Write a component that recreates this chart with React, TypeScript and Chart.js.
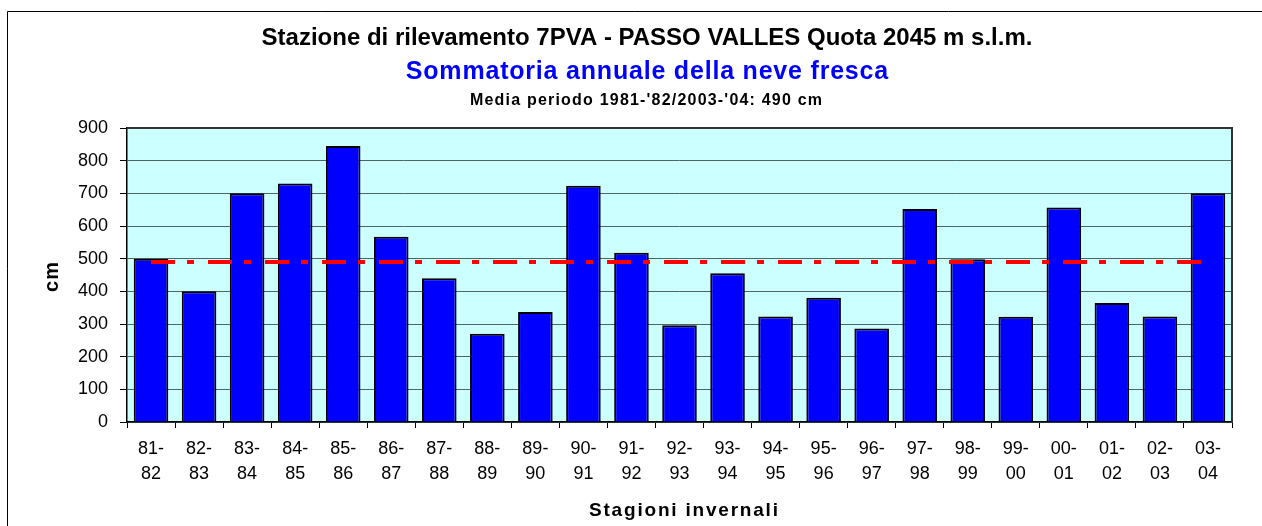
import React, { useEffect, useRef } from 'react';
import { Chart, registerables } from 'chart.js';

Chart.register(...registerables);

// ---- data ----
const seasons = [
  '81-82', '82-83', '83-84', '84-85', '85-86', '86-87', '87-88', '88-89',
  '89-90', '90-91', '91-92', '92-93', '93-94', '94-95', '95-96', '96-97',
  '97-98', '98-99', '99-00', '00-01', '01-02', '02-03', '03-04',
];
const snowfall = [
  500, 400, 700, 730, 845, 567, 440, 270,
  337, 723, 518, 296, 455, 323, 380, 286,
  652, 498, 322, 657, 364, 323, 700,
];
const meanValue = 490;
const yMin = 0;
const yMax = 900;
const yStep = 100;

const titleText = 'Stazione di rilevamento 7PVA - PASSO VALLES Quota 2045 m s.l.m.';
const subtitleText = 'Sommatoria annuale della neve fresca';
const noteText = `Media periodo 1981-'82/2003-'04: ${meanValue} cm`;
const xTitle = 'Stagioni invernali';
const yTitle = 'cm';

const FONT = '"Liberation Sans", Arial, Helvetica, sans-serif';

function drawText(
  ctx: CanvasRenderingContext2D,
  text: string,
  x: number,
  y: number,
  font: string,
  color: string,
  spacing: number,
  rotate = 0
) {
  ctx.save();
  ctx.translate(x, y);
  if (rotate) ctx.rotate(rotate);
  ctx.font = font;
  ctx.fillStyle = color;
  (ctx as any).letterSpacing = `${spacing}px`;
  ctx.textAlign = 'center';
  ctx.textBaseline = 'alphabetic';
  ctx.fillText(text, spacing / 2, 0);
  ctx.restore();
}

const decorPlugin = {
  id: 'decor',
  beforeDraw(chart: any) {
    const { ctx, chartArea: a } = chart;
    ctx.save();
    ctx.fillStyle = '#ffffff';
    ctx.fillRect(0, 0, chart.width, chart.height);
    ctx.fillStyle = '#CCFFFF';
    ctx.fillRect(a.left, a.top, a.right - a.left, a.bottom - a.top);
    ctx.strokeStyle = '#000';
    ctx.lineWidth = 1;
    ctx.beginPath();
    ctx.moveTo(7.5, chart.height);
    ctx.lineTo(7.5, 11.5);
    ctx.lineTo(chart.width, 11.5);
    ctx.stroke();
    ctx.restore();
  },
  afterDraw(chart: any) {
    const { ctx, chartArea: a } = chart;
    ctx.save();
    ctx.strokeStyle = '#333';
    ctx.lineWidth = 2;
    ctx.beginPath();
    ctx.moveTo(a.left, a.top);
    ctx.lineTo(a.right, a.top);
    ctx.lineTo(a.right, a.bottom);
    ctx.stroke();
    ctx.restore();

    drawText(ctx, titleText, 647, 45, `bold 24px ${FONT}`, '#000', 0);
    drawText(ctx, subtitleText, 647, 79, `bold 25px ${FONT}`, '#0000FF', 0.8);
    drawText(ctx, noteText, 646, 105, `bold 16px ${FONT}`, '#000', 1.2);
    drawText(ctx, xTitle, (a.left + a.right) / 2 + 4, 516, `bold 19px ${FONT}`, '#000', 1.8);
    drawText(ctx, yTitle, 58, (a.top + a.bottom) / 2 + 2, `bold 20px ${FONT}`, '#000', 1, -Math.PI / 2);
  },
};

export default function App() {
  const canvasRef = useRef<HTMLCanvasElement | null>(null);

  useEffect(() => {
    const canvas = canvasRef.current;
    if (!canvas) return;
    const chart = new Chart(canvas, {
      type: 'bar',
      data: {
        labels: seasons.map((s) => {
          const [a, b] = s.split('-');
          return [`${a}-`, b];
        }),
        datasets: [
          {
            type: 'line',
            label: 'Media',
            data: seasons.map(() => meanValue),
            borderColor: '#FF0000',
            borderWidth: 4,
            borderDash: [24, 12, 7, 14],
            pointRadius: 0,
            fill: false,
            order: 0,
          } as any,
          {
            type: 'bar',
            label: 'Neve fresca',
            data: snowfall,
            backgroundColor: '#0000FF',
            borderColor: '#000000',
            borderWidth: 2,
            barPercentage: 0.72,
            categoryPercentage: 1.0,
            order: 1,
          } as any,
        ],
      },
      options: {
        responsive: false,
        animation: false,
        devicePixelRatio: 1,
        layout: { padding: { left: 0, top: 128, right: 30, bottom: 44 } },
        plugins: {
          legend: { display: false },
          tooltip: { enabled: false },
          title: { display: false },
        },
        scales: {
          x: {
            offset: true,
            grid: {
              offset: true,
              drawOnChartArea: false,
              drawTicks: true,
              tickLength: 6,
              tickColor: '#000',
            },
            border: { color: '#000', width: 1.5 },
            ticks: {
              color: '#000',
              font: { family: FONT, size: 18, lineHeight: 1.4 },
              padding: 8,
              maxRotation: 0,
              autoSkip: false,
            },
            afterFit: (s: any) => {
              s.height = 60;
            },
          },
          y: {
            min: yMin,
            max: yMax,
            grid: {
              color: '#4f6464',
              tickColor: '#000',
              tickLength: 7,
              lineWidth: 1,
            },
            border: { color: '#000', width: 1.5 },
            ticks: {
              stepSize: yStep,
              color: '#000',
              font: { family: FONT, size: 18 },
              padding: 12,
            },
            afterFit: (s: any) => {
              s.width = 127;
            },
          },
        },
      } as any,
      plugins: [decorPlugin],
    });
    return () => chart.destroy();
  }, []);

  return (
    <canvas
      ref={canvasRef}
      width={1262}
      height={526}
      style={{ position: 'absolute', left: 0, top: 0, display: 'block' }}
    />
  );
}
